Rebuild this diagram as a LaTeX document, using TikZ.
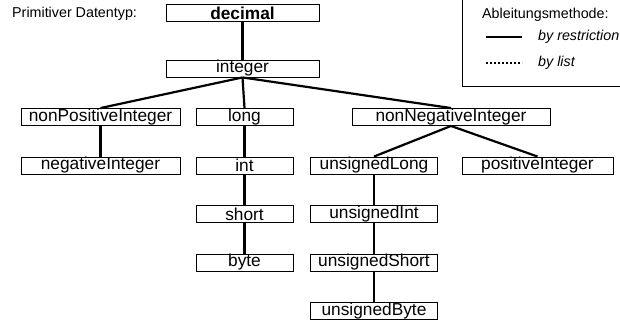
\documentclass[tikz,border=0pt]{standalone}
\usepackage{fontspec}
\setmainfont{Liberation Sans}
\usepackage{tikz}
\usetikzlibrary{positioning,calc}

\begin{document}
\begin{tikzpicture}[
    x=1pt, y=-1pt,
    typebox/.style={rectangle, draw, line width=0.9pt, minimum height=17pt, inner sep=0pt, font=\fontsize{17.3}{18}\selectfont},
    derive/.style={line width=2.2pt},
    listline/.style={line width=2pt, dash pattern=on 2pt off 2pt},
    legendtext/.style={anchor=west, inner sep=0pt, font=\fontsize{14.3}{16}\selectfont}
]
    \clip (0,0) rectangle (620,320);

    % Primitive type
    \node[legendtext] (primlabel) at (12,14) {Primitiver Datentyp:};
    \node[typebox, minimum width=153pt, font=\fontsize{17.3}{18}\selectfont\bfseries] (decimal) at (242.5,13) {decimal};
    \node[typebox, minimum width=153pt] (integer) at (242.5,68.5) {integer};

    % Second level
    \node[typebox, minimum width=159pt] (nonpos) at (100.5,117) {nonPositiveInteger};
    \node[typebox, minimum width=97pt] (long) at (244.5,117) {long};
    \node[typebox, minimum width=198pt] (nonneg) at (451,117) {nonNegativeInteger};

    % Third level
    \node[typebox, minimum width=159pt] (negint) at (100.5,165.5) {negativeInteger};
    \node[typebox, minimum width=97pt] (int) at (244.5,165.5) {int};
    \node[typebox, minimum width=127pt] (ulong) at (374,165.5) {unsignedLong};
    \node[typebox, minimum width=151pt] (posint) at (537.5,165.5) {positiveInteger};

    % Lower levels
    \node[typebox, minimum width=97pt] (short) at (244.5,214) {short};
    \node[typebox, minimum width=127pt] (uint) at (374,214) {unsignedInt};
    \node[typebox, minimum width=97pt] (byte) at (244.5,262.5) {byte};
    \node[typebox, minimum width=127pt] (ushort) at (374,262.5) {unsignedShort};
    \node[typebox, minimum width=127pt] (ubyte) at (374,311) {unsignedByte};

    % Derivations
    \draw[derive] (decimal) -- (integer);
    \draw[derive] (integer.south) -- (nonpos.north);
    \draw[derive] (integer.south) -- (long.north);
    \draw[derive] (integer.south) -- (nonneg.north);
    \draw[derive] (nonpos) -- (negint);
    \draw[derive] (long) -- (int);
    \draw[derive] (int) -- (short);
    \draw[derive] (short) -- (byte);
    \draw[derive] (nonneg.south) -- (ulong.north);
    \draw[derive] (nonneg.south) -- (posint.north);
    \draw[derive] (ulong) -- (uint);
    \draw[derive] (uint) -- (ushort);
    \draw[derive] (ushort) -- (ubyte);

    % Legend
    \node[draw, line width=0.9pt, minimum width=165pt, minimum height=95pt, inner sep=0pt, anchor=south west] (legend) at (462,86.5) {};
    \node[legendtext] (legtitle) at (482,15) {Ableitungsmethode:};
    \node[legendtext, font=\fontsize{14.3}{16}\selectfont\itshape] (restr) at (538,37) {by restriction};
    \node[legendtext, font=\fontsize{14.3}{16}\selectfont\itshape] (list) at (538,63) {by list};
    \coordinate (restrA) at (486,37);
    \coordinate (restrB) at (522,37);
    \coordinate (listA) at (486,63);
    \coordinate (listB) at (522,63);
    \draw[derive] (restrA) -- (restrB);
    \draw[listline] (listA) -- (listB);
\end{tikzpicture}
\end{document}
